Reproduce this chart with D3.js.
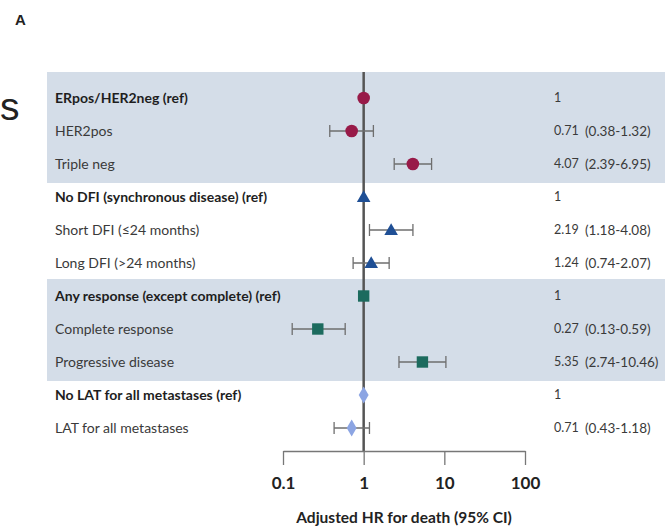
<!DOCTYPE html>
<html>
<head>
<meta charset="utf-8">
<script src="https://cdn.jsdelivr.net/npm/d3@7"></script>
<style>
  html, body { margin: 0; padding: 0; background: #fff; }
  svg { display: block; }
</style>
</head>
<body>
<svg id="chart" width="668" height="527"></svg>
<script>
// Row labels, estimates and confidence limits for the forest plot
const labels = [
  "ERpos/HER2neg (ref)", "HER2pos", "Triple neg",
  "No DFI (synchronous disease) (ref)", "Short DFI (≤24 months)", "Long DFI (>24 months)",
  "Any response (except complete) (ref)", "Complete response", "Progressive disease",
  "No LAT for all metastases (ref)", "LAT for all metastases"
];
const hr    = [1, 0.71, 4.07, 1, 2.19, 1.24, 1, 0.27, 5.35, 1, 0.71];
const lower = [null, 0.38, 2.39, null, 1.18, 0.74, null, 0.13, 2.74, null, 0.43];
const upper = [null, 1.32, 6.95, null, 4.08, 2.07, null, 0.59, 10.46, null, 1.18];
const hrText = ["1", "0.71", "4.07", "1", "2.19", "1.24", "1", "0.27", "5.35", "1", "0.71"];
const ciText = ["", "(0.38-1.32)", "(2.39-6.95)", "", "(1.18-4.08)", "(0.74-2.07)",
                "", "(0.13-0.59)", "(2.74-10.46)", "", "(0.43-1.18)"];
const group  = [0, 0, 0, 1, 1, 1, 2, 2, 2, 3, 3];
const isRef  = [true, false, false, true, false, false, true, false, false, true, false];
const groupShapes = ["circle", "triangle", "square", "diamond"];
const groupColors = ["#981a48", "#1f4f95", "#1c6b5e", "#8ca5e3"];
const shadedGroups = [0, 2];
const axisTicks = [0.1, 1, 10, 100];
const axisTitle = "Adjusted HR for death (95% CI)";

const svg = d3.select("#chart");
const font = "Lato, 'Open Sans', sans-serif";

const x = d3.scaleLog().domain([0.1, 100]).range([283, 525]);
const y = d3.scalePoint().domain(d3.range(labels.length)).range([98, 428]);
const plotTop = 72, axisY = 451;

// shaded bands behind alternating groups
shadedGroups.forEach(g => {
  const rows = d3.range(labels.length).filter(i => group[i] === g);
  const top = g === 0 ? plotTop : y(rows[0]) - 17;
  const bottom = y(rows[rows.length - 1]) + 19;
  svg.append("rect")
    .attr("x", 47).attr("y", top)
    .attr("width", 665 - 47).attr("height", bottom - top)
    .attr("fill", "#d4dde8");
});

// panel letter and heading fragment
svg.append("text").attr("x", 15).attr("y", 25)
  .attr("font-family", "Arial, 'Liberation Sans', sans-serif")
  .attr("font-weight", "bold").attr("font-size", 15).attr("fill", "#222").text("A");
svg.append("text").attr("x", 0).attr("y", 120)
  .attr("font-family", "Arial, 'Liberation Sans', sans-serif")
  .attr("font-size", 39).attr("fill", "#222").text("s");

// row labels
svg.append("g").selectAll("text").data(labels).join("text")
  .attr("x", 55).attr("y", (d, i) => y(i)).attr("dy", "0.35em")
  .attr("font-family", font).attr("font-size", 14)
  .attr("font-weight", (d, i) => isRef[i] ? "bold" : "normal")
  .attr("fill", (d, i) => isRef[i] ? "#1e1e1e" : "#3a3a3a")
  .text(d => d);

// reference line at HR = 1
svg.append("line")
  .attr("x1", x(1)).attr("x2", x(1)).attr("y1", plotTop).attr("y2", axisY)
  .attr("stroke", "#555").attr("stroke-width", 2.5);

// confidence intervals
const ciRows = d3.range(labels.length).filter(i => lower[i] != null);
const ci = svg.append("g").attr("stroke", "#6e6e6e").attr("stroke-width", 1.3);
ciRows.forEach(i => {
  ci.append("line").attr("x1", x(lower[i])).attr("x2", x(upper[i]))
    .attr("y1", y(i)).attr("y2", y(i));
  [lower[i], upper[i]].forEach(v => {
    ci.append("line").attr("x1", x(v)).attr("x2", x(v))
      .attr("y1", y(i) - 6).attr("y2", y(i) + 6);
  });
});

// point estimates
const symbolFor = {
  circle: d3.symbol(d3.symbolCircle, 125),
  triangle: d3.symbol(d3.symbolTriangle, 80),
  square: d3.symbol(d3.symbolSquare, 130),
  diamond: d3.symbol(d3.symbolDiamond, 85)
};
svg.append("g").selectAll("path").data(hr).join("path")
  .attr("transform", (d, i) => `translate(${x(d)},${y(i) + (groupShapes[group[i]] === "triangle" ? 1 : 0)})`)
  .attr("d", (d, i) => symbolFor[groupShapes[group[i]]]())
  .attr("fill", (d, i) => groupColors[group[i]]);

// estimate and interval text columns
svg.append("g").selectAll("text").data(hrText).join("text")
  .attr("x", 554).attr("y", (d, i) => y(i)).attr("dy", "0.35em")
  .attr("font-family", font).attr("font-size", 12.5).attr("fill", "#3a3a3a").text(d => d);
svg.append("g").selectAll("text").data(ciText).join("text")
  .attr("x", 585).attr("y", (d, i) => y(i)).attr("dy", "0.35em")
  .attr("font-family", font).attr("font-size", 13.5).attr("fill", "#3a3a3a").text(d => d);

// log axis
const axis = d3.axisBottom(x).tickValues(axisTicks).tickSize(14).tickSizeOuter(0)
  .tickPadding(12).tickFormat(d => String(d));
const ax = svg.append("g").attr("transform", `translate(0,${axisY})`).call(axis);
ax.select(".domain").attr("stroke", "#777").attr("stroke-width", 1.3);
ax.selectAll(".tick line").attr("stroke", "#777").attr("stroke-width", 1.3);
ax.selectAll(".tick text").attr("font-family", font).attr("font-weight", "bold")
  .attr("font-size", 17).attr("fill", "#222");

svg.append("text").attr("x", 404).attr("y", 523).attr("text-anchor", "middle")
  .attr("font-family", font).attr("font-weight", "bold").attr("font-size", 15.5)
  .attr("fill", "#222").text(axisTitle);
</script>
</body>
</html>
